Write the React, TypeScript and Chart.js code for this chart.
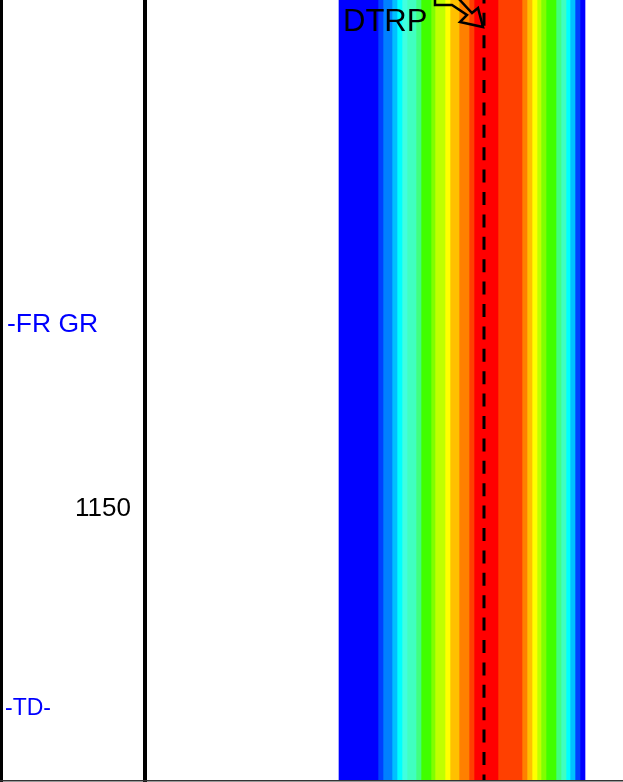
import { useEffect, useRef } from 'react';
import { Chart, registerables } from 'chart.js';

Chart.register(...registerables);

// ---- data ----
const depthMin = 1124.65;
const depthMax = 1163.65;
const depthTicks = [1150];

const topNames = ['-FR GR', '-TD-'];
const topDepths = [1140.8, 1160];

const curveName = 'DTRP';
const dtrpValue = 84.25;

// colour-fill boundaries (track units) and their palette
const bandEdges = [48, 57.75, 59, 61.25, 62.5, 63.75, 65, 67.25, 68.5, 71, 72, 74.5, 75.75, 78, 80.5, 81.75, 87.75, 93.75, 95, 96.25, 97.5, 98.5, 99.75, 102.25, 103.5, 104.75, 105.75, 107, 108.25, 109.5];
const bandColors = ['#0000FF', '#0040FF', '#0080FF', '#00C0FF', '#00FFFF', '#40FFE0', '#40FFC0', '#40FF80', '#40FF00', '#80FF00', '#C0FF00', '#FFFF00', '#FFC000', '#FF8000', '#FF4000', '#FF0000', '#FF4000', '#FF8000', '#FFC000', '#FFFF00', '#C0FF00', '#80FF00', '#40FF00', '#40FF80', '#40FFC0', '#00FFFF', '#00C0FF', '#0040FF', '#0000FF'];

const trackMin = 0;
const trackMax = 119;

// ---- styles ----
const FONT = "'Liberation Sans', Arial, Helvetica, sans-serif";
const topFontPx = [26.5, 23];

const overlayPlugin = {
  id: 'overlay',
  afterDraw(chart: any) {
    const { ctx, chartArea, scales } = chart;
    const ys = scales.y;
    const xs = scales.x;
    const W = chart.width;
    const H = chart.height;
    ctx.save();

    // formation tops in depth track
    ctx.textAlign = 'left';
    ctx.textBaseline = 'alphabetic';
    ctx.fillStyle = '#0000FF';
    topNames.forEach((name, i) => {
      const fs = topFontPx[i];
      ctx.font = `${fs}px ${FONT}`;
      const py = ys.getPixelForValue(topDepths[i]);
      ctx.fillText(name, i === 0 ? 7 : 5, py + fs * 0.716 / 2);
    });

    // curve name
    ctx.fillStyle = '#000';
    ctx.font = `31px ${FONT}`;
    ctx.fillText(curveName, xs.getPixelForValue(bandEdges[0]) + 4, chartArea.top + 31);

    // hollow arrow pointing at the curve
    const tx = xs.getPixelForValue(dtrpValue);
    const ty = chartArea.top + 27;
    const pts = [[-49, -29], [-49, -22], [-32, -22], [-17, -12], [-24, -5], [-1, 0], [-6, -19], [-12, -14], [-26, -29]];
    ctx.beginPath();
    pts.forEach(([dx, dy], i) => {
      if (i === 0) ctx.moveTo(tx + dx, ty + dy);
      else ctx.lineTo(tx + dx, ty + dy);
    });
    ctx.closePath();
    ctx.lineWidth = 2.5;
    ctx.lineJoin = 'miter';
    ctx.strokeStyle = '#000';
    ctx.stroke();

    // frame lines
    ctx.fillStyle = '#000';
    ctx.fillRect(0, 0, 3, H);
    ctx.fillRect(chartArea.left - 4, 0, 4, H);
    ctx.fillStyle = '#333';
    ctx.fillRect(0, chartArea.bottom, W, 1.5);
    ctx.restore();
  },
};

export default function App() {
  const ref = useRef<HTMLCanvasElement>(null);

  useEffect(() => {
    const canvas = ref.current;
    if (!canvas) return;

    const bandDatasets = bandColors.map((c, i) => ({
      type: 'bar' as const,
      label: 'fill' + i,
      data: [[bandEdges[i], bandEdges[i + 1]]],
      backgroundColor: c,
      borderWidth: 0,
      borderSkipped: false,
      indexAxis: 'y',
      xAxisID: 'x',
      yAxisID: 'yb',
      grouped: false,
      barPercentage: 1,
      categoryPercentage: 1,
      order: 1,
    }));

    const chart = new Chart(canvas, {
      type: 'bar',
      data: {
        labels: ['fill'],
        datasets: [
          {
            type: 'line' as const,
            label: curveName,
            data: [
              { x: dtrpValue, y: depthMin },
              { x: dtrpValue, y: depthMax },
            ],
            xAxisID: 'x',
            yAxisID: 'y',
            borderColor: '#000',
            borderWidth: 3,
            borderDash: [13, 9.4],
            borderDashOffset: 9.6,
            pointRadius: 0,
            fill: false,
            order: -1,
          } as any,
          ...(bandDatasets as any[]),
        ],
      },
      options: {
        responsive: false,
        animation: false,
        events: [],
        layout: { padding: { top: 0, right: 0, bottom: 2, left: 0 } },
        plugins: { legend: { display: false }, tooltip: { enabled: false } },
        scales: {
          x: {
            type: 'linear',
            axis: 'x',
            min: trackMin,
            max: trackMax,
            offset: false,
            display: false,
          },
          y: {
            type: 'linear',
            axis: 'y',
            position: 'left',
            reverse: true,
            min: depthMin,
            max: depthMax,
            grid: { display: false, drawTicks: false },
            border: { display: false },
            ticks: {
              color: '#000',
              font: { size: 26, family: FONT },
              padding: 16,
              labelOffset: 2,
              callback: (v: any) => String(v),
            },
            afterBuildTicks: (s: any) => {
              s.ticks = depthTicks.map((v) => ({ value: v }));
            },
            afterFit: (s: any) => {
              s.width = 147;
              s.paddingTop = 0;
              s.paddingBottom = 0;
            },
          },
          yb: {
            type: 'category',
            axis: 'y',
            position: 'left',
            offset: true,
            display: false,
          },
        },
      } as any,
      plugins: [overlayPlugin],
    });

    return () => chart.destroy();
  }, []);

  return (
    <div style={{ position: 'absolute', left: 0, top: 0, width: 623, height: 782, background: '#fff' }}>
      <canvas ref={ref} width={623} height={782} style={{ display: 'block' }} />
    </div>
  );
}
